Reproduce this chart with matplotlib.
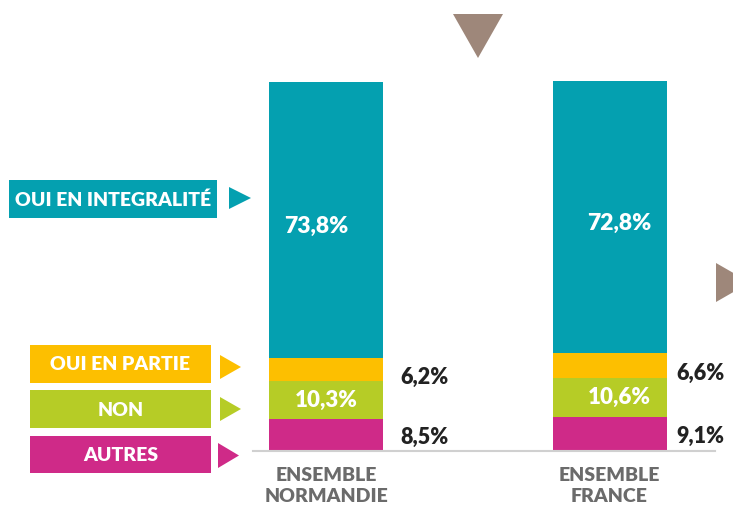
import matplotlib
matplotlib.use("Agg")
import matplotlib.pyplot as plt
from matplotlib.patches import Rectangle, Polygon
import numpy as np

# ---- data ----
categories = ["ENSEMBLE\nNORMANDIE", "ENSEMBLE\nFRANCE"]
series_names = ["AUTRES", "NON", "OUI EN PARTIE", "OUI EN INTEGRALITÉ"]
autres = [8.5, 9.1]
non = [10.3, 10.6]
oui_partie = [6.2, 6.6]
oui_integralite = [73.8, 72.8]

colors = {"AUTRES": "#cf2a88", "NON": "#b6cc26", "OUI EN PARTIE": "#fdbf00",
          "OUI EN INTEGRALITÉ": "#04a0b0"}
brown = "#9e877a"

W, H = 733, 508
fig = plt.figure(figsize=(W / 100, H / 100), dpi=100)
FONT = "Lato"
WT = "heavy"

def fx(px):
    return px / W

def fy(py):
    return 1 - py / H

px_per_unit = 283.5
left_px, right_px = 253, 715
x0 = (left_px - 326) / px_per_unit
x1 = (right_px - 326) / px_per_unit
ax = fig.add_axes([fx(left_px), fy(451), (right_px - left_px) / W, 373 / H])
ax.set_xlim(x0, x1)
ax.set_ylim(0, 100)
for s in ["left", "right", "top"]:
    ax.spines[s].set_visible(False)
ax.spines["bottom"].set_color("#d0d0d0")
ax.spines["bottom"].set_linewidth(1.5)
ax.set_xticks([])
ax.set_yticks([])
ax.patch.set_alpha(0)

x = np.arange(len(categories))
bw = 114 / px_per_unit
stack = [("AUTRES", autres), ("NON", non), ("OUI EN PARTIE", oui_partie),
         ("OUI EN INTEGRALITÉ", oui_integralite)]
bottom = np.zeros(len(categories))
bottoms = {}
for name, vals in stack:
    vals = np.array(vals)
    ax.bar(x, vals, bw, bottom=bottom, color=colors[name], linewidth=0)
    bottoms[name] = bottom.copy()
    bottom = bottom + vals

def fmt(v):
    return f"{v:.1f}%".replace(".", ",")

teal_dx = [-0.035, 0.033]
green_dx = [0.0, 0.033]
side_dx = [0.346, 0.322]
for i in range(len(categories)):
    yv = bottoms["OUI EN INTEGRALITÉ"][i] + oui_integralite[i] / 2 - 1.6
    ax.text(x[i] + teal_dx[i], yv, fmt(oui_integralite[i]), color="white",
            ha="center", va="center", fontsize=16.5, fontweight=WT, family=FONT)
    yv = bottoms["NON"][i] + non[i] / 2
    ax.text(x[i] + green_dx[i], yv, fmt(non[i]), color="white",
            ha="center", va="center", fontsize=16, fontweight=WT, family=FONT)
    yv = bottoms["OUI EN PARTIE"][i] + oui_partie[i] / 2 - 2.1
    ax.text(x[i] + side_dx[i], yv, fmt(oui_partie[i]), color="#222222",
            ha="center", va="center", fontsize=15.5, fontweight=WT, family=FONT)
    yv = bottoms["AUTRES"][i] + autres[i] / 2 - 0.6
    ax.text(x[i] + side_dx[i], yv, fmt(autres[i]), color="#222222",
            ha="center", va="center", fontsize=15.5, fontweight=WT, family=FONT)
    ax.text(x[i], -9.4, categories[i], color="#6b6b6b", ha="center", va="center",
            fontsize=14, fontweight=WT, family=FONT, linespacing=1.32)

legend_boxes = [
    ("OUI EN INTEGRALITÉ", 9, 217, 180, 218, 229, 251, 187, 209),
    ("OUI EN PARTIE", 30, 211, 345, 383, 220, 241, 355, 379),
    ("NON", 30, 211, 390, 428, 220, 241, 397, 421),
    ("AUTRES", 30, 211, 436, 473, 218, 239, 443, 468),
]
for name, bx0, bx1, by0, by1, ax0, ax1, ay0, ay1 in legend_boxes:
    c = colors[name]
    fig.add_artist(Rectangle((fx(bx0), fy(by1)), (bx1 - bx0) / W, (by1 - by0) / H,
                             transform=fig.transFigure, color=c, lw=0))
    fig.text(fx((bx0 + bx1) / 2), fy((by0 + by1) / 2 + 1), name, color="white",
             ha="center", va="center", fontsize=14, fontweight=WT, family=FONT)
    fig.add_artist(Polygon([(fx(ax0), fy(ay0)), (fx(ax0), fy(ay1)),
                            (fx(ax1), fy((ay0 + ay1) / 2))],
                           transform=fig.transFigure, color=c, lw=0))

fig.add_artist(Polygon([(fx(453), fy(14)), (fx(503), fy(14)), (fx(478), fy(58))],
                       transform=fig.transFigure, color=brown, lw=0))
fig.add_artist(Polygon([(fx(716), fy(263)), (fx(716), fy(302)), (fx(750), fy(282.5))],
                       transform=fig.transFigure, color=brown, lw=0))

fig.savefig("out.png", dpi=100, facecolor="white")
